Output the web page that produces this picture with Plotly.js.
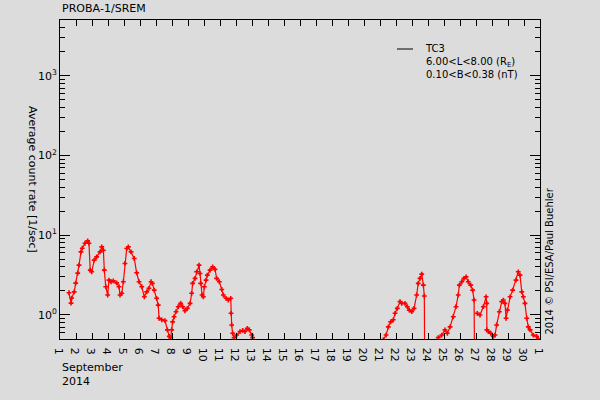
<!DOCTYPE html>
<html>
<head>
<meta charset="utf-8">
<script src="https://cdn.plot.ly/plotly-3.0.1.min.js"></script>
<style>html,body{margin:0;padding:0;background:#dcdcdc;}#chart{width:600px;height:400px;}</style>
</head>
<body>
<div id="chart"></div>
<script>
// Day of September 2014 (31 = 1 October)
const days = [
 1.56,1.69,1.73,1.89,1.98,2.11,2.19,2.31,2.39,2.56,2.73,2.81,2.89,2.98,3.14,3.29,3.50,3.61,3.71,3.77,3.86,3.98,
 4.06,4.19,4.33,4.54,4.69,4.75,4.86,4.96,5.06,5.17,5.27,5.44,5.64,5.79,5.94,6.11,6.27,6.42,6.56,6.69,6.77,6.89,
 7.04,7.14,7.19,7.36,7.56,7.71,7.83,7.92,7.98,8.04,8.13,8.25,8.39,8.54,8.67,8.81,8.96,9.13,9.23,9.29,9.44,9.54,
 9.69,9.75,9.79,9.88,9.96,10.02,10.13,10.21,10.38,10.54,10.69,10.79,10.96,11.11,11.21,11.38,11.52,11.67,11.69,
 11.73,11.79,11.88,12.04,12.25,12.42,12.56,12.71,12.83,12.98,13.04,
 13.5,
 21.21,21.38,21.52,21.67,21.83,21.94,22.08,22.25,22.36,22.56,22.71,22.83,22.98,23.13,23.29,23.39,23.50,23.61,
 23.71,23.77,23.81,
 24.2,
 24.64,24.86,25.06,25.21,25.38,25.58,25.75,25.89,25.96,26.11,26.25,26.38,26.52,26.67,26.79,26.88,26.94,
 27.0,
 27.08,27.25,27.46,27.63,27.67,27.68,27.77,27.92,28.08,28.19,28.29,28.46,28.61,28.71,28.81,28.88,28.96,29.13,
 29.29,29.50,29.64,29.75,29.86,29.96,30.06,30.17,30.27,30.38,30.58,30.79,30.89
];
// Average count rate [1/sec]
const rates = [
 1.90,1.41,1.63,1.95,2.51,3.35,4.22,6.18,6.88,7.94,8.49,7.94,3.65,3.48,4.87,5.36,6.18,7.14,6.49,3.65,2.26,1.78,
 2.74,2.61,2.68,2.53,2.26,1.78,1.87,2.61,4.43,6.82,7.14,6.18,5.11,3.38,2.61,2.26,1.69,1.95,2.16,2.61,2.49,2.05,
 1.62,1.33,0.91,0.87,0.85,0.65,0.54,0.52,0.65,0.82,0.95,1.10,1.27,1.40,1.27,1.13,1.21,1.40,1.87,2.49,2.88,3.48,
 4.22,3.32,2.49,1.78,1.69,2.26,2.74,3.16,3.65,4.01,3.73,2.88,2.61,2.09,1.78,1.62,1.54,1.62,1.05,
 0.75,0.59,0.52,0.56,0.62,0.64,0.62,0.68,0.65,0.56,0.52,
 null,
 0.49,0.56,0.71,0.82,0.87,1.05,1.21,1.47,1.40,1.40,1.27,1.15,1.10,1.21,1.78,2.49,2.88,3.25,
 2.37,1.73,0.05,
 null,
 0.52,0.56,0.65,0.59,0.71,0.95,1.27,1.78,2.37,2.61,2.88,3.01,2.61,2.37,2.05,1.54,0.05,
 null,
 1.05,1.00,1.27,1.69,1.40,0.65,0.62,0.59,0.54,0.56,0.75,1.10,1.47,1.54,1.40,0.91,1.15,1.69,
 2.05,2.74,3.48,3.16,1.95,1.69,1.40,0.91,0.71,0.65,0.56,0.54,0.50
];
const xTickVals = Array.from({length: 31}, (_, i) => i + 1);
const xTickText = xTickVals.map(d => d === 31 ? '1' : String(d));
const yTickVals = [1, 10, 100, 1000];
const yTickText = ['10<sup>0</sup>', '10<sup>1</sup>', '10<sup>2</sup>', '10<sup>3</sup>'];
const yMinorVals = [];
[0.5,0.6,0.7,0.8,0.9].forEach(v => yMinorVals.push(v));
[1,10,100,1000].forEach(b => { for (let k = 2; k <= 9; k++) { if (b*k <= 5000) yMinorVals.push(b*k); } });

const font = {family: 'DejaVu Sans, sans-serif', size: 11, color: '#000'};

const trace = {
  x: days, y: rates, type: 'scatter', mode: 'lines+markers',
  connectgaps: false,
  line: {color: '#ff0000', width: 1.2},
  marker: {color: '#ff0000', symbol: 'cross', size: 4},
  cliponaxis: true, showlegend: false, hoverinfo: 'skip'
};

const layout = {
  width: 600, height: 400,
  paper_bgcolor: '#dcdcdc', plot_bgcolor: '#dcdcdc',
  margin: {l: 60, r: 60, t: 20, b: 61},
  font: font,
  showlegend: false,
  xaxis: {
    range: [1, 31], tickmode: 'array', tickvals: xTickVals, ticktext: xTickText,
    ticks: 'inside', ticklen: 6, tickcolor: '#000', tickwidth: 1,
    showline: true, linecolor: '#000', linewidth: 1, mirror: 'allticks',
    showgrid: false, zeroline: false, tickfont: {family: 'DejaVu Sans, sans-serif', size: 11}
  },
  yaxis: {
    type: 'log', range: [Math.log10(0.5), Math.log10(5000)],
    tickmode: 'array', tickvals: yTickVals, ticktext: yTickText,
    ticks: 'inside', ticklen: 10, tickcolor: '#000', tickwidth: 1,
    minor: {tickmode: 'array', tickvals: yMinorVals, ticks: 'inside', ticklen: 5, tickcolor: '#000', showgrid: false},
    showline: true, linecolor: '#000', linewidth: 1, mirror: 'allticks',
    showgrid: false, zeroline: false, tickfont: {family: 'DejaVu Sans, sans-serif', size: 11}
  },
  shapes: [
    {type: 'line', xref: 'paper', yref: 'paper', x0: 337/480, x1: 353/480, y0: (339-49)/319, y1: (339-49)/319,
     line: {color: '#000', width: 1}}
  ],
  annotations: [
    {text: 'PROBA\u20111/SREM', xref: 'paper', yref: 'paper', x: 0, y: 1, xanchor: 'left', yanchor: 'bottom',
     yshift: 3, showarrow: false, font: font},
    {text: 'TC3<br>6.00<L<8.00 (R<sub>E</sub>)<br>0.10<B<0.38 (nT)', xref: 'paper', yref: 'paper',
     x: 363/480, y: (339-41)/319, xanchor: 'left', yanchor: 'top', align: 'left', showarrow: false,
     font: {family: 'DejaVu Sans, sans-serif', size: 10, color: '#000'}},
    {text: 'Average count rate [1/sec]', xref: 'paper', yref: 'paper', x: -27/480, y: (339-179)/319,
     xanchor: 'center', yanchor: 'middle', textangle: 90, showarrow: false, font: font},
    {text: 'September<br>2014', xref: 'paper', yref: 'paper', x: 0, y: -20/319, xanchor: 'left', yanchor: 'top',
     align: 'left', showarrow: false, font: font},
    {text: '2014 \u00a9 PSI/ESA/Paul Buehler', xref: 'paper', yref: 'paper', x: 1 + 9/480, y: 0, xanchor: 'center',
     yanchor: 'bottom', yshift: 2, textangle: -90, showarrow: false,
     font: {family: 'DejaVu Sans, sans-serif', size: 10, color: '#000'}}
  ]
};

Plotly.newPlot('chart', [trace], layout, {displayModeBar: false, staticPlot: true});
</script>
</body>
</html>
